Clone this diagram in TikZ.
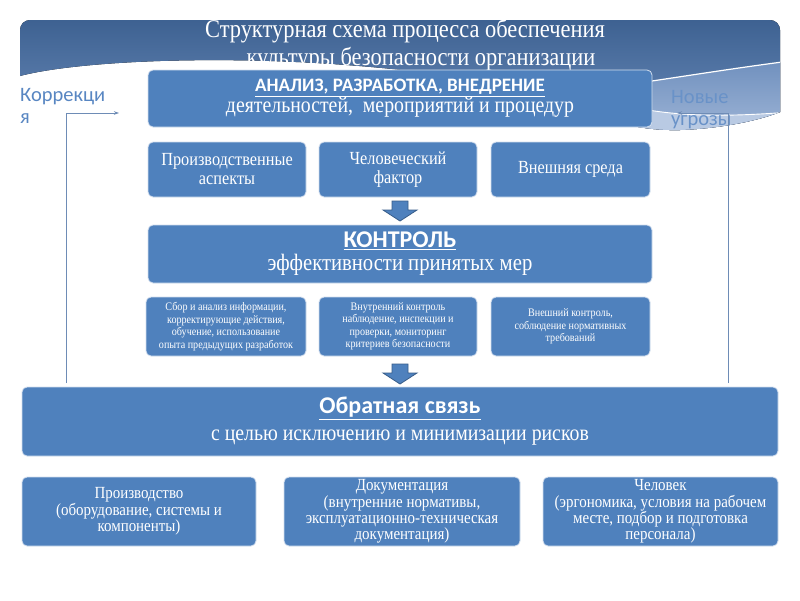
\documentclass[tikz,border=0pt]{standalone}
\usepackage{fontspec}
\setmainfont{Liberation Serif}[FakeStretch=0.88]
\newfontfamily\hd{Carlito}
\usetikzlibrary{calc,arrows.meta}
\definecolor{boxblue}{RGB}{79,129,189}
\definecolor{boxdark}{RGB}{56,93,138}
\definecolor{hdrtop}{RGB}{58,94,142}
\definecolor{hdrbot}{RGB}{112,145,192}
\definecolor{hdrlight}{RGB}{112,144,190}
\definecolor{hdrpale}{RGB}{168,189,220}
\definecolor{sidetxt}{RGB}{88,134,194}
\definecolor{linecol}{RGB}{110,140,182}
\begin{document}
\begin{tikzpicture}[x=1pt,y=-1pt,
  bx/.style={draw=white!75!boxblue, line width=0.8pt, fill=boxblue, rounded corners=5pt,
     text=white, align=center, inner sep=1pt},
  barrow/.style={fill=boxblue, draw=boxdark, line width=0.8pt},
  conn/.style={draw=linecol, line width=0.8pt},
  side/.style={text=sidetxt, font=\hd\fontsize{20.5}{22}\selectfont, align=left, inner sep=0pt, anchor=west}
]
\useasboundingbox (0,0) rectangle (800,600);
\fill[white] (0,0) rectangle (800,600);
% header band
\begin{scope}
  \clip[rounded corners=10pt] (20,20) rectangle (780,220);
  \clip (20,76) .. controls (80,60) and (250,52) .. (420,72)
        .. controls (540,88) and (600,132) .. (680,130)
        .. controls (730,128) and (765,118) .. (780,112) -- (790,112) -- (790,0) -- (10,0) -- (10,76) -- cycle;
  \fill[top color=hdrtop, bottom color=hdrbot] (10,10) rectangle (790,150);
  \fill[top color=hdrlight, bottom color=hdrpale] (400,112) .. controls (550,100) and (680,75) .. (790,61) -- (790,150) -- (400,150) -- cycle;
  \fill[hdrpale!80!white] (600,100) .. controls (650,112) and (690,120) .. (790,112) -- (790,150) -- (600,150) -- cycle;
  \draw[white, line width=1.2pt] (400,112) .. controls (550,100) and (680,75) .. (790,61);
  \draw[white, line width=0.9pt] (600,100) .. controls (650,112) and (690,120) .. (790,112);
\end{scope}
\node[text=white, font=\fontsize{25.5}{27}\selectfont, inner sep=0pt] (t1) at (405,31) {Структурная схема процесса обеспечения};
\node[text=white, font=\fontsize{25.5}{27}\selectfont, inner sep=0pt] (t2) at (421,59) {культуры безопасности организации};

% side labels
\node[side] (korr) at (20,106) {Коррекци\\я};
\node[side, text=sidetxt!90!white] (nov) at (671,110) {Новые\\угрозы};

% top box
\node[bx, minimum width=504pt, minimum height=57pt, font=\fontsize{22.5}{20}\selectfont] (analiz) at (400,98.5)
  {{\hd\bfseries\fontsize{19}{20}\selectfont\underline{АНАЛИЗ, РАЗРАБОТКА, ВНЕДРЕНИЕ}}\\
   деятельностей,\ \ мероприятий и процедур};

% row 2
\begin{scope}[every node/.append style={bx, minimum height=55pt, font=\fontsize{18.5}{19}\selectfont}]
\node[minimum width=158pt] (f1) at (227,169.5) {Производственные\\аспекты};
\node[minimum width=158pt] (f2) at (398,169.5) {Человеческий\\фактор};
\node[minimum width=159pt] (f3) at (570.5,169.5) {Внешняя среда};
\end{scope}

% arrow 1
\begin{scope}[shift={(400,211)}]
\draw[barrow] (-8,-10) -- (8,-10) -- (8,-1) -- (17,-1) -- (0,10) -- (-17,-1) -- (-8,-1) -- cycle;
\end{scope}

% control
\node[bx, minimum width=504pt, minimum height=58pt, font=\fontsize{23.5}{23}\selectfont] (control) at (400,254)
  {{\hd\bfseries\fontsize{24}{23}\selectfont\underline{КОНТРОЛЬ}}\\
   эффективности принятых мер};

% row 4
\begin{scope}[every node/.append style={bx, minimum height=59pt, font=\fontsize{11.5}{12.5}\selectfont}]
\node[minimum width=160pt] (c1) at (226,326.5) {Сбор и анализ информации,\\корректирующие действия,\\обучение, использование\\опыта предыдущих разработок};
\node[minimum width=158pt] (c2) at (398,326.5) {Внутренний контроль\\наблюдение, инспекции и\\проверки, мониторинг\\критериев безопасности};
\node[minimum width=159pt] (c3) at (570.5,326.5) {Внешний контроль,\\соблюдение нормативных\\требований};
\end{scope}

% arrow 2
\begin{scope}[shift={(400,374)}]
\draw[barrow] (-8,-10) -- (8,-10) -- (8,-1) -- (17,-1) -- (0,10) -- (-17,-1) -- (-8,-1) -- cycle;
\end{scope}

% feedback
\node[bx, minimum width=756pt, minimum height=69pt, font=\fontsize{22.5}{27}\selectfont] (fb) at (400,421.5)
  {{\hd\bfseries\fontsize{24}{27}\selectfont\underline{Обратная связь}}\\
   с целью исключению и минимизации рисков};

% bottom row
\begin{scope}[every node/.append style={bx, minimum height=69pt, font=\fontsize{17}{16.3}\selectfont}]
\node[minimum width=234pt] (b1) at (139,511.5) {Производство\\(оборудование, системы и\\компоненты)};
\node[minimum width=236pt] (b2) at (402,511.5) {Документация\\(внутренние нормативы,\\эксплуатационно-техническая\\документация)};
\node[minimum width=235pt] (b3) at (660.5,511.5) {Человек\\(эргономика, условия на рабочем\\месте, подбор и подготовка\\персонала)};
\end{scope}

% side connectors
\coordinate (lb) at (66,383);
\coordinate (lt) at (119,113);
\coordinate (rb) at (728,383);
\coordinate (rt) at (677,113);
\draw[conn, -{Stealth[length=5pt,width=3.5pt]}] (lb) |- (lt);
\draw[conn, -{Stealth[length=5pt,width=3.5pt]}] (rb) |- (rt);
\end{tikzpicture}
\end{document}
